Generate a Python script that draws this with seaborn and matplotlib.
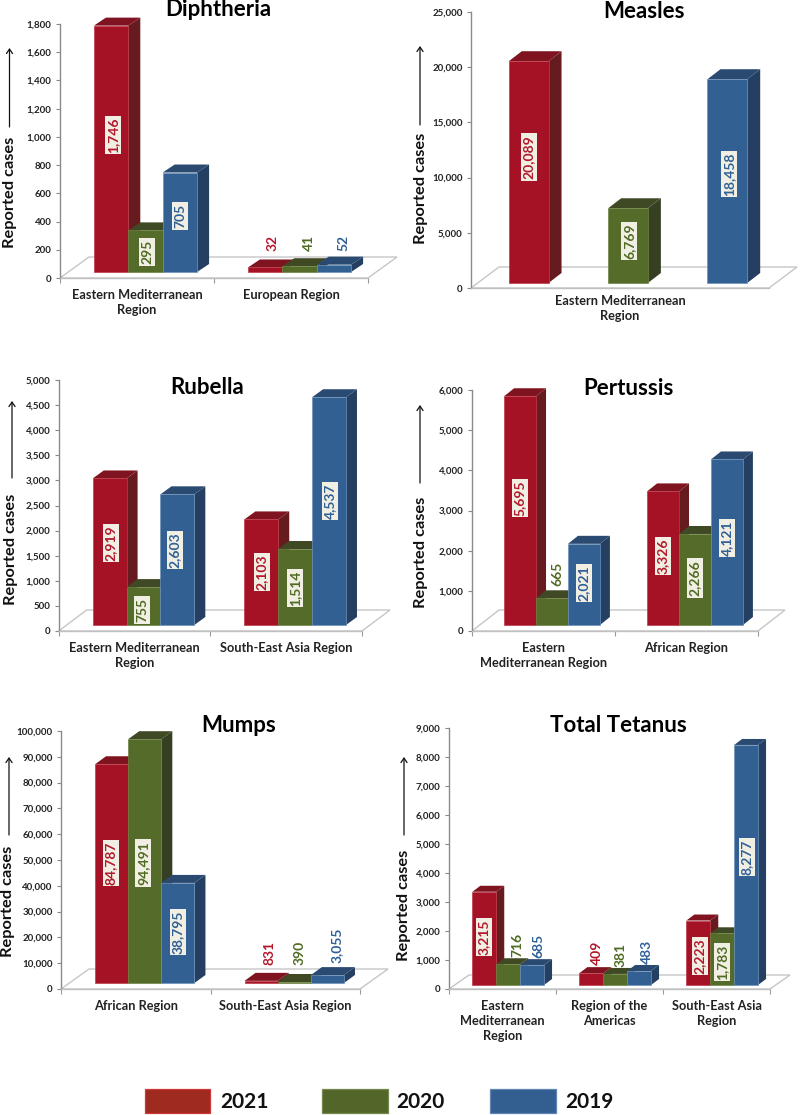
import numpy as np
import pandas as pd
import seaborn as sns
import matplotlib
matplotlib.use("Agg")
import matplotlib.pyplot as plt
from matplotlib.patches import Polygon, Rectangle
from matplotlib.transforms import Affine2D, IdentityTransform
from matplotlib.ticker import FuncFormatter

YEARS = ["2021", "2020", "2019"]

diphtheria_regions = ["Eastern Mediterranean\nRegion", "European Region"]
diphtheria_2021 = [1746, 32]
diphtheria_2020 = [295, 41]
diphtheria_2019 = [705, 52]

measles_regions = ["Eastern Mediterranean\nRegion"]
measles_2021 = [20089]
measles_2020 = [6769]
measles_2019 = [18458]

rubella_regions = ["Eastern Mediterranean\nRegion", "South-East Asia Region"]
rubella_2021 = [2919, 2103]
rubella_2020 = [755, 1514]
rubella_2019 = [2603, 4537]

pertussis_regions = ["Eastern\nMediterranean Region", "African Region"]
pertussis_2021 = [5695, 3326]
pertussis_2020 = [665, 2266]
pertussis_2019 = [2021, 4121]

mumps_regions = ["African Region", "South-East Asia Region"]
mumps_2021 = [84787, 831]
mumps_2020 = [94491, 390]
mumps_2019 = [38795, 3055]

tetanus_regions = ["Eastern\nMediterranean\nRegion", "Region of the\nAmericas", "South-East Asia\nRegion"]
tetanus_2021 = [3215, 409, 2223]
tetanus_2020 = [716, 381, 1783]
tetanus_2019 = [685, 483, 8277]

FRONT = {"2021": "#a51225", "2020": "#556b2a", "2019": "#336092"}
SIDE = {"2021": "#661b1e", "2020": "#373f22", "2019": "#243f62"}
TOP = {"2021": "#7f1420", "2020": "#3f4a25", "2019": "#2a4a72"}
EDGE = {"2021": "#c23a48", "2020": "#6f8444", "2019": "#6f93bb"}
TEXT = {"2021": "#b2182b", "2020": "#4f6b22", "2019": "#2f6096"}
LEG_FACE = {"2021": "#9e2a20", "2020": "#53662a", "2019": "#335f90"}
LEG_EDGE = {"2021": "#d03838", "2020": "#75894f", "2019": "#5f86b2"}

W, H = 800, 1115

panels = [
    dict(title="Diphtheria", regions=diphtheria_regions,
         values=[diphtheria_2021, diphtheria_2020, diphtheria_2019],
         ymax=1800, step=200, left=60, right=368, y0=278, top=24,
         floor=(29, 21), depth=(12, 8), base=(8.5, 6), width=0.67, gap=0, pad=11,
         title_xy=(218, 10), ylab=(10, 192), arrow=(9.5, 127, 48),
         label_xy=[(113, 135), (147, 252), (180, 216), (273, 243), (309, 243), (343, 243)],
         free=[3, 4, 5]),
    dict(title="Measles", regions=measles_regions,
         values=[measles_2021, measles_2020, measles_2019],
         ymax=25000, step=5000, left=471, right=769, y0=288, top=12,
         floor=(28, 21), depth=(13, 10), base=(8, 5), width=1.0, gap=0.6, pad=7,
         title_xy=(644, 11), ylab=(421, 188), arrow=(420, 125, 46),
         label_xy=[(529, 157), (629, 241), (729, 174)], free=[], ticks=False),
    dict(title="Rubella", regions=rubella_regions,
         values=[rubella_2021, rubella_2020, rubella_2019],
         ymax=5000, step=500, left=58.7, right=362, y0=631, top=380,
         floor=(28, 21), depth=(11, 8), base=(9, 6), width=0.67, gap=0, pad=11,
         title_xy=(207, 387), ylab=(11, 549), arrow=(12, 478, 401),
         label_xy=[(111, 543), (142, 610), (175, 550), (262, 572), (295, 588), (330, 501)], free=[]),
    dict(title="Pertussis", regions=pertussis_regions,
         values=[pertussis_2021, pertussis_2020, pertussis_2019],
         ymax=6000, step=1000, left=472, right=758, y0=631, top=390,
         floor=(27, 21), depth=(10, 8), base=(8.5, 6), width=0.67, gap=0, pad=11,
         title_xy=(628, 389), ylab=(421, 552), arrow=(420, 483, 405),
         label_xy=[(520, 498), (557, 574), (584, 583), (663, 556), (695, 578), (727, 538)], free=[1]),
    dict(title="Mumps", regions=mumps_regions,
         values=[mumps_2021, mumps_2020, mumps_2019],
         ymax=100000, step=10000, left=61, right=360, y0=989, top=731,
         floor=(28, 20), depth=(11, 8), base=(9, 6), width=0.665, gap=0, pad=11,
         title_xy=(239, 726), ylab=(8, 901), arrow=(9, 835, 757),
         label_xy=[(111, 863), (143, 863), (178, 932), (269, 953), (300, 953), (337, 945)],
         free=[3, 4, 5]),
    dict(title="Total Tetanus", regions=tetanus_regions,
         values=[tetanus_2021, tetanus_2020, tetanus_2019],
         ymax=9000, step=1000, left=449, right=770, y0=989, top=728,
         floor=(20, 14), depth=(8, 6), base=(5.7, 4), width=0.67, gap=0, pad=11,
         title_xy=(618, 725), ylab=(404, 905), arrow=(404, 835, 757),
         label_xy=[(484, 937), (517, 945), (538, 946), (597, 953), (621, 955), (647, 952),
                   (700, 956), (722, 962), (747, 857)], free=[1, 2, 3, 4, 5]),
]

sns.set_theme(style="white")
plt.rcParams["font.family"] = ["Lato", "DejaVu Sans"]

fig = plt.figure(figsize=(W / 100, H / 100), dpi=100, facecolor="white")


def fx(x):
    return x / W


def fy(y):
    return 1 - y / H


def poly(ax, pts, face, z, edge="none", lw=0):
    ax.add_patch(Polygon(pts, closed=True, facecolor=face, edgecolor=edge, linewidth=lw,
                         transform=IdentityTransform(), clip_on=False, zorder=z))


for p in panels:
    left, right, y0, top = p["left"], p["right"], p["y0"], p["top"]
    ax = fig.add_axes([fx(left), fy(y0), (right - left) / W, (y0 - top) / H])
    ax.patch.set_alpha(0)
    n = len(p["regions"])
    df = pd.DataFrame({
        "region": p["regions"] * 3,
        "year": [y for y in YEARS for _ in range(n)],
        "cases": [v for series in p["values"] for v in series],
    })
    sns.barplot(data=df, x="region", y="cases", hue="year", order=p["regions"], hue_order=YEARS,
                palette=FRONT, saturation=1, width=p["width"], gap=p["gap"], errorbar=None,
                legend=False, ax=ax)
    ax.set_xlim(-0.5, n - 0.5)
    ax.set_ylim(0, p["ymax"])
    ax.set_xlabel("")

    # y axis
    ax.set_yticks(np.arange(0, p["ymax"] + p["step"], p["step"]))
    ax.yaxis.set_major_formatter(FuncFormatter(lambda v, _: f"{v:,.0f}"))
    ax.tick_params(axis="y", length=3, width=0.8, color="#888888", pad=3, labelsize=7.0,
                   labelcolor="#222222", left=True)
    for t in ax.get_yticklabels():
        t.set_fontweight("bold")

    # x axis: labels at the category centres, tick marks between them
    ax.tick_params(axis="x", which="major", length=0, pad=p["pad"] * 0.72, labelsize=9.2,
                   labelcolor="#222222")
    for t in ax.get_xticklabels():
        t.set_fontweight("bold")
        t.set_linespacing(1.3)
    if p.get("ticks", True):
        ax.set_xticks(np.arange(n + 1) - 0.5, minor=True)
        ax.tick_params(axis="x", which="minor", length=3.5, width=0.8, color="#999999", bottom=True)

    sns.despine(ax=ax)
    ax.spines["left"].set_color("#8a8a8a")
    ax.spines["left"].set_linewidth(1.0)
    ax.spines["bottom"].set_color("#c0c0c0")
    ax.spines["bottom"].set_linewidth(1.0)

    # floor of the 3-D box
    fdx, fdy = p["floor"]
    yb = H - y0
    poly(ax, [(left, yb), (right, yb), (right + fdx, yb + fdy), (left + fdx, yb + fdy)],
         "white", 1, edge="#c6c6c6", lw=1.0)

    # bars: front from seaborn, shifted onto the floor, with computed side and top faces
    bx, by = p["base"]
    dx, dy = p["depth"]
    tr = ax.transData + Affine2D().translate(bx, by)
    yrs = {id(b): y for b, y in zip(ax.patches[:3 * n], [y for y in YEARS for _ in range(n)])}
    bars = sorted([b for b in ax.patches if isinstance(b, Rectangle)][:3 * n], key=lambda b: b.get_x())
    labels = []
    for i, b in enumerate(bars):
        yr = yrs[id(b)]
        z = 3 + i
        b.set_transform(tr)
        b.set_clip_on(False)
        b.set_zorder(z + 0.3)
        b.set_edgecolor(EDGE[yr])
        b.set_linewidth(0.5)
        x0, x1 = b.get_x(), b.get_x() + b.get_width()
        h = b.get_height()
        (xa, ya), (xb, yc) = tr.transform([(x0, 0), (x1, h)])
        poly(ax, [(xb, ya), (xb + dx, ya + dy), (xb + dx, yc + dy), (xb, yc)], SIDE[yr], z + 0.1)
        poly(ax, [(xa, yc), (xb, yc), (xb + dx, yc + dy), (xa + dx, yc + dy)], TOP[yr], z + 0.2)
        labels.append((h, yr))

    for i, ((val, yr), (lx, ly)) in enumerate(zip(labels, p["label_xy"])):
        kw = {}
        if i not in p["free"]:
            kw["bbox"] = dict(boxstyle="square,pad=0.12", facecolor="#f1efe3", edgecolor="none")
        fig.text(fx(lx), fy(ly), f"{int(val):,}", rotation=90, ha="center", va="center",
                 fontsize=10, fontweight="bold", color=TEXT[yr], zorder=50, **kw)

    # title and axis label
    tx, ty = p["title_xy"]
    ax.set_title(p["title"], x=(tx - left) / (right - left), y=(y0 - ty) / (y0 - top), va="center",
                 ha="center", fontsize=16, fontweight="bold", color="black", pad=0)
    lx, ly = p["ylab"]
    ax.set_ylabel("Reported cases", fontsize=11.8, fontweight="bold", color="#111111")
    ax.yaxis.set_label_coords((lx - left) / (right - left), (y0 - ly) / (y0 - top))
    ax.yaxis.label.set_va("center")

    # upward arrow beside the axis label
    ax_x, a0, a1 = p["arrow"]
    fig.add_artist(matplotlib.patches.FancyArrowPatch(
        (fx(ax_x), fy(a0)), (fx(ax_x), fy(a1)), transform=fig.transFigure,
        arrowstyle="->,head_width=2.2,head_length=3.2", color="#111111", linewidth=0.9,
        shrinkA=0, shrinkB=0, mutation_scale=1.0))

# legend row
for yr, x0, tx in zip(YEARS, [144.5, 322, 490], [220, 396, 565]):
    fig.add_artist(Rectangle((fx(x0), fy(1113)), 65.5 / W, 24 / H, transform=fig.transFigure,
                             facecolor=LEG_FACE[yr], edgecolor=LEG_EDGE[yr], linewidth=0.9))
    fig.text(fx(tx), fy(1102), yr, ha="left", va="center", fontsize=15, fontweight="bold", color="#111111")

fig.savefig("out.png", dpi=100, facecolor="white")
